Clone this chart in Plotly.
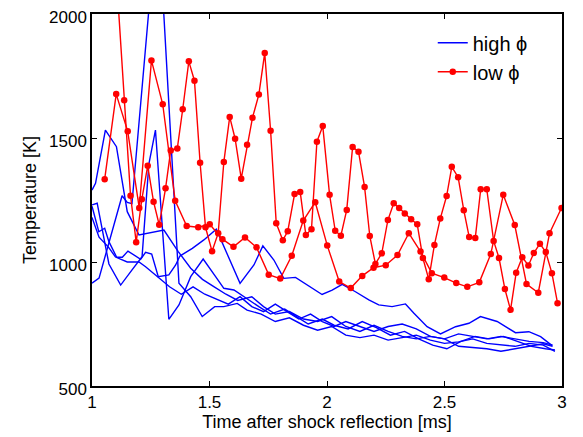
import plotly.graph_objects as go

# ---- data: time [ms] and temperature [K] ----
# high phi (blue) runs
high_a_t = [1.0,1.029,1.054,1.072,1.105,1.129,1.153,1.207,1.228,1.254,1.282,1.327,1.356,1.374,1.427,1.476,1.529,1.576,1.63,1.689,1.727,1.774,1.816,1.866,1.923,1.979,2.022,2.065,2.121,2.178,2.22,2.277,2.334,2.37,2.426,2.483,2.547,2.604,2.653,2.724,2.802,2.859,2.909,2.958]
high_a_T = [1225,1122,1136,1082,1019,1019,1044,1011,1039,1032,941,948,988,1024,1055,1089,1132,1028,914,988,1065,1008,934,938,904,869,887,910,880,847,827,820,831,793,739,710,739,753,780,760,715,719,699,663]

high_b_t = [1.0,1.03,1.128,1.15,1.17,1.28,1.37,1.42,1.469,1.522,1.561,1.618,1.66,1.72,1.78,1.84,1.9,1.96,2.02,2.08,2.14,2.2,2.26,2.32,2.38,2.44,2.5,2.56,2.62,2.68,2.74,2.8,2.86,2.92,2.97]
high_b_T = [915,935,1267,1240,1235,2430,914,860,780,820,820,833,806,790,760,775,745,725,740,705,695,705,685,695,705,685,672,678,690,672,666,660,672,665,640]

high_c_t = [1.0,1.015,1.057,1.104,1.15,1.2,1.306,1.367,1.42,1.47,1.52,1.57,1.62,1.68,1.73,1.78,1.84,1.9,1.96,2.02,2.08,2.14,2.2,2.26,2.32,2.38,2.44,2.5,2.56,2.62,2.68,2.74,2.8,2.86,2.92,2.96]
high_c_T = [1290,1317,1532,1465,1203,1109,1129,1042,975,930,900,870,845,860,820,790,800,770,760,780,740,720,745,720,700,690,700,690,660,655,650,640,650,660,670,660]

high_d_t = [1.0,1.022,1.072,1.122,1.168,1.213,1.242,1.27,1.327,1.37,1.42,1.473,1.526,1.561,1.604,1.66,1.71,1.76,1.82,1.87,1.92,1.98,2.03,2.09,2.15,2.21,2.27,2.33,2.39,2.45,2.51,2.57,2.63,2.69,2.75,2.81,2.87,2.93,2.97]
high_d_T = [1230,1237,992,907,965,1021,1395,1532,769,827,941,1012,941,894,887,850,820,790,810,780,750,770,745,730,760,735,705,720,690,665,650,680,700,690,700,680,660,650,645]

high_e_t = [1.0,1.03,1.07,1.1,1.15,1.2,1.228,1.278,1.33,1.38,1.43,1.48,1.53,1.58,1.63,1.68,1.73,1.78,1.83,1.88,1.93,1.98,2.03,2.08,2.14,2.2,2.26,2.32,2.38,2.44,2.5,2.56,2.62,2.68,2.74,2.8,2.86,2.92,2.96]
high_e_T = [1180,1100,1060,1020,1000,1000,981,941,900,870,900,870,850,830,860,820,800,830,800,770,790,760,740,760,740,720,740,750,730,700,690,710,700,690,700,690,680,675,665]

# low phi (red) runs
low_a_t = [1.087,1.137,1.164,1.188,1.212,1.237,1.262,1.286,1.313,1.335,1.363,1.386,1.412,1.436,1.460,1.483,1.511,1.537,1.561,1.586,1.609,1.635,1.660,1.683,1.710,1.735,1.760,1.784,1.812,1.833,1.862,1.886,1.910,1.934,1.957,1.982,2.011,2.035,2.059,2.084,2.109,2.134,2.160,2.182,2.206,2.233,2.259,2.284,2.307,2.331,2.358,2.384,2.408,2.433,2.457,2.482,2.509,2.531,2.558,2.582,2.605,2.631,2.654,2.680,2.709,2.732,2.757,2.781,2.805,2.831,2.857,2.880,2.906,2.931,2.957,2.981]
low_a_T = [2400,1652,1267,1080,1253,1388,1243,1150,1297,1450,1458,1616,1809,1731,1400,1140,1043,1116,1403,1585,1497,1336,1473,1582,1675,1843,1529,1156,1088,1124,1274,1282,1109,1132,1485,1548,1271,1126,1106,1210,1464,1445,1302,1105,992,1035,1169,1237,1218,1196,1172,1152,1016,930,1069,1175,1266,1384,1342,1209,1101,1097,1293,1293,1085,1016,891,807,957,1019,986,1036,1074,1040,955,834]

low_b_t = [1.054,1.103,1.152,1.201,1.253,1.301,1.354,1.403,1.452,1.501,1.555,1.602,1.651,1.700,1.752,1.801,1.850,1.899,1.950,2.001,2.052,2.101,2.150,2.198,2.250,2.300,2.348,2.398,2.446,2.499,2.550,2.597,2.648,2.697,2.750,2.799,2.849,2.899,2.947,2.998]
low_b_T = [1334,1677,1527,1218,1813,1636,1247,1145,1140,1152,1092,1061,1099,1059,949,933,1025,1167,1241,1067,921,895,944,977,987,1028,1116,1042,955,937,915,900,918,1032,1271,1149,911,876,1116,1218]

x_ticks = [1, 1.5, 2, 2.5, 3]
x_tick_text = ["1", "1.5", "2", "2.5", "3"]
y_ticks = [500, 1000, 1500, 2000]

BLUE = "#0000ff"
RED = "#ff0000"
FONT = "Liberation Sans, Arial, sans-serif"

fig = go.Figure()

high_runs = [(high_a_t, high_a_T), (high_b_t, high_b_T), (high_c_t, high_c_T),
             (high_d_t, high_d_T), (high_e_t, high_e_T)]
for i, (t, T) in enumerate(high_runs):
    fig.add_trace(go.Scatter(x=t, y=T, mode="lines",
                             line=dict(color=BLUE, width=1.4),
                             name="high \u03d5", legendgroup="high",
                             showlegend=(i == 0)))

low_runs = [(low_a_t, low_a_T), (low_b_t, low_b_T)]
for i, (t, T) in enumerate(low_runs):
    fig.add_trace(go.Scatter(x=t, y=T, mode="lines+markers",
                             line=dict(color=RED, width=1.4),
                             marker=dict(color=RED, size=6.5),
                             name="low \u03d5", legendgroup="low",
                             showlegend=(i == 0)))

axis_common = dict(showline=True, linecolor="black", linewidth=1.5, mirror="ticks",
                   ticks="inside", ticklen=5, tickwidth=1, tickcolor="black",
                   showgrid=False, zeroline=False, automargin=False,
                   ticklabeloverflow="allow",
                   tickfont=dict(family=FONT, size=17, color="black"))

fig.update_xaxes(range=[1, 3], tickvals=x_ticks, ticktext=x_tick_text,
                 title=dict(text="Time after shock reflection [ms]",
                            font=dict(family=FONT, size=18, color="black"), standoff=0),
                 **axis_common)
fig.update_yaxes(range=[500, 2000], tickvals=y_ticks, ticklabelshift=3,
                 title=dict(text="Temperature [K]",
                            font=dict(family=FONT, size=18, color="black"), standoff=8),
                 **axis_common)

# the page adds an 8px body margin, so the figure is sized to fit the window
fig.update_layout(
    width=575, height=429,
    margin=dict(l=84, r=21, t=6, b=51),
    paper_bgcolor="white", plot_bgcolor="white",
    font=dict(family=FONT, color="black"),
    legend=dict(x=0.725, y=0.975, xanchor="left", yanchor="top",
                bgcolor="rgba(0,0,0,0)", borderwidth=0,
                font=dict(family=FONT, size=20, color="black"),
                tracegroupgap=0),
)

fig.write_html("out.html")
